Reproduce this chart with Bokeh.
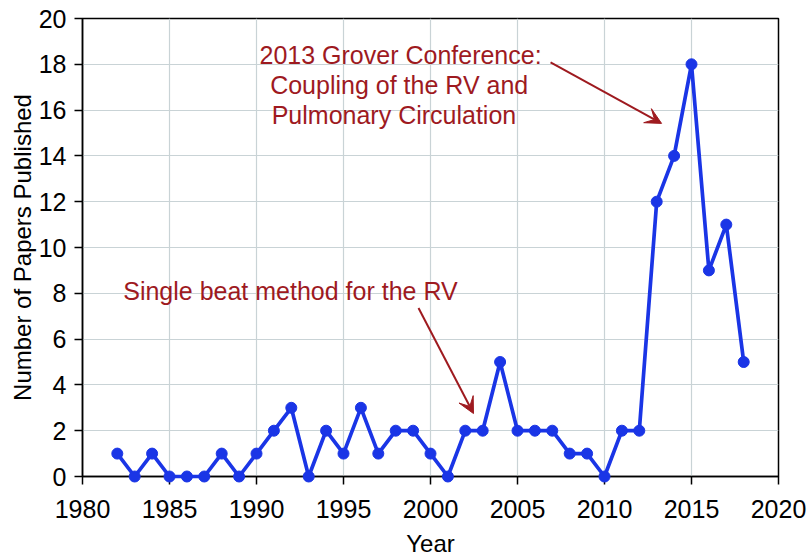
from bokeh.plotting import figure
from bokeh.models import Range1d, Label, Arrow, VeeHead, FixedTicker
from bokeh.embed import file_html
from bokeh.resources import INLINE

years = [1982, 1983, 1984, 1985, 1986, 1987, 1988, 1989, 1990, 1991, 1992, 1993,
         1994, 1995, 1996, 1997, 1998, 1999, 2000, 2001, 2002, 2003, 2004, 2005,
         2006, 2007, 2008, 2009, 2010, 2011, 2012, 2013, 2014, 2015, 2016, 2017, 2018]
papers = [1, 0, 1, 0, 0, 0, 1, 0, 1, 2, 3, 0,
          2, 1, 3, 1, 2, 2, 1, 0, 2, 2, 5, 2,
          2, 2, 1, 1, 0, 2, 2, 12, 14, 18, 9, 11, 5]
x_ticks = [1980, 1985, 1990, 1995, 2000, 2005, 2010, 2015, 2020]
y_ticks = [0, 2, 4, 6, 8, 10, 12, 14, 16, 18, 20]

FONT = "Liberation Sans"
RED = "#9e1a1f"
BLUE = "#1a35e6"

p = figure(width=809, height=559, output_backend="svg", toolbar_location=None,
           x_range=Range1d(1980, 2020), y_range=Range1d(0, 20),
           min_border_left=82, min_border_right=31, min_border_top=18, min_border_bottom=82)

p.outline_line_color = "black"
p.outline_line_width = 1.5
p.background_fill_color = "white"

for ax in (p.xaxis[0], p.yaxis[0]):
    ax.axis_line_color = "black"
    ax.axis_line_width = 1.5
    ax.major_tick_line_color = "black"
    ax.major_tick_line_width = 1.5
    ax.major_tick_in = 0
    ax.major_tick_out = 8
    ax.minor_tick_line_color = None
    ax.major_label_text_font = FONT
    ax.major_label_text_font_size = "25px"
    ax.major_label_text_color = "black"
    ax.axis_label_text_font = FONT
    ax.axis_label_text_font_size = "24px"
    ax.axis_label_text_font_style = "normal"
    ax.axis_label_text_color = "black"

p.xaxis[0].ticker = FixedTicker(ticks=x_ticks)
p.yaxis[0].ticker = FixedTicker(ticks=y_ticks)
p.xaxis[0].axis_label = "Year"
p.yaxis[0].axis_label = "Number of Papers Published"
p.xaxis[0].major_label_standoff = 15
p.yaxis[0].major_label_standoff = 8
p.xaxis[0].axis_label_standoff = 9
p.yaxis[0].axis_label_standoff = 0

p.xgrid.ticker = FixedTicker(ticks=x_ticks)
p.ygrid.ticker = FixedTicker(ticks=y_ticks)
for g in (p.xgrid[0], p.ygrid[0]):
    g.grid_line_color = "#c9d3d6"
    g.grid_line_width = 1.2

r1 = p.line(years, papers, line_color=BLUE, line_width=3.7)
r2 = p.scatter(years, papers, size=11, fill_color=BLUE, line_color=BLUE)
r1.level = "overlay"
r2.level = "overlay"

lines = [("2013 Grover Conference:", 1998.28, 18.39),
         ("Coupling of the RV and", 1998.2, 17.08),
         ("Pulmonary Circulation", 1997.9, 15.77)]
for txt, x, y in lines:
    p.add_layout(Label(x=x, y=y, text=txt, text_align="center", text_baseline="alphabetic",
                       text_font=FONT, text_font_size="25px", text_color=RED))

p.add_layout(Label(x=1982.34, y=8.10, text="Single beat method for the RV", text_align="left",
                   text_baseline="alphabetic", text_font=FONT, text_font_size="25px", text_color=RED))

p.add_layout(Arrow(x_start=2006.9, y_start=18.08, x_end=2013.28, y_end=15.42,
                   line_color=RED, line_width=2,
                   end=VeeHead(size=16, fill_color=RED, line_color=RED)))
p.add_layout(Arrow(x_start=1999.31, y_start=7.36, x_end=2002.47, y_end=2.75,
                   line_color=RED, line_width=2,
                   end=VeeHead(size=16, fill_color=RED, line_color=RED)))

open("out.html", "w").write(file_html(p, INLINE))
